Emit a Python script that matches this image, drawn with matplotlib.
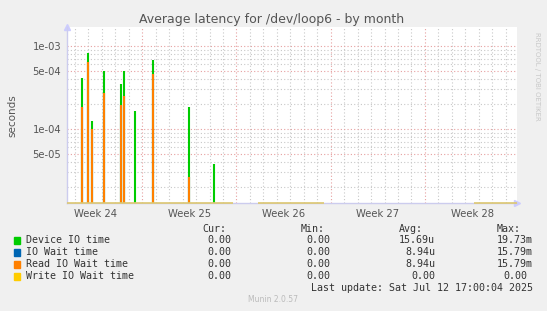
import matplotlib
matplotlib.use('Agg')
import matplotlib.pyplot as plt

# time axis: days from start of week 25 (Sun Jun 15 2025)
t_start = -5.61
t_end = 27.82
week_labels = ['Week 24', 'Week 25', 'Week 26', 'Week 27', 'Week 28']

# spikes (time in days, value in seconds)
dev_t = [-4.45, -4.00, -3.71, -2.82, -1.60, -1.33, -0.51, 0.82, 3.50, 5.36]
dev_v = [4.1e-4, 8.2e-4, 1.25e-4, 5.0e-4, 3.5e-4, 5.0e-4, 1.66e-4, 6.8e-4, 1.84e-4, 3.8e-5]
read_t = [-4.45, -4.00, -3.71, -2.82, -1.60, -1.33, 0.82, 3.50]
read_v = [1.84e-4, 6.5e-4, 1.01e-4, 2.72e-4, 1.96e-4, 2.52e-4, 4.6e-4, 2.6e-5]
iowait_t = read_t
iowait_v = read_v

# periods with known (zero) data for write IO wait
known_start = [-5.61, 8.6, 24.65]
known_end = [6.75, 13.5, 27.82]

names = ['Device IO time', 'IO Wait time', 'Read IO Wait time', 'Write IO Wait time']
colors = ['#00cc00', '#0066b3', '#ff8000', '#ffcc00']
cur = ['0.00', '0.00', '0.00', '0.00']
mins = ['0.00', '0.00', '0.00', '0.00']
avgs = ['15.69u', '8.94u', '8.94u', '0.00']
maxs = ['19.73m', '15.79m', '15.79m', '0.00']

ybot, ytop = 1.28e-5, 1.68e-3

fig = plt.figure(figsize=(5.47, 3.11), dpi=100, facecolor='#f0f0f0')
ax = fig.add_axes([66.7/547, 1-203/311, 450/547, (203-27.3)/311])
ax.set_facecolor('white')
ax.set_yscale('log')
ax.set_xlim(t_start, t_end)
ax.set_ylim(ybot, ytop)

# grid
for d in range(-5, 28):
    c = '#e6a0a0' if d % 7 == 0 else '#c8c8c8'
    ax.axvline(d, color=c, lw=0.8, ls=(0, (1, 2)), zorder=0)
for e in (-5, -4, -3):
    for m in range(1, 10):
        yv = m * 10.0**e
        if ybot < yv < ytop:
            c = '#e6a0a0' if m in (1, 5) else '#c8c8c8'
            ax.axhline(yv, color=c, lw=0.8, ls=(0, (1, 2)), zorder=0)

ax.vlines(dev_t, ybot, dev_v, color=colors[0], lw=1.5, zorder=2)
ax.vlines(iowait_t, ybot, iowait_v, color=colors[1], lw=1.5, zorder=3)
ax.vlines(read_t, ybot, read_v, color=colors[2], lw=1.5, zorder=4)
ax.hlines([ybot] * len(known_start), known_start, known_end, color='#ddc870', lw=1.2, zorder=5, clip_on=False)

for s in ['top', 'right']:
    ax.spines[s].set_visible(False)
for s in ['left', 'bottom']:
    ax.spines[s].set_color('#ccccee')
    ax.spines[s].set_linewidth(1)
ax.plot(1.0, 0, '>', color='#ccccff', ms=4, transform=ax.transAxes, clip_on=False)
ax.plot(0, 1.0, '^', color='#ccccff', ms=4, transform=ax.transAxes, clip_on=False)

ax.set_xticks([-3.5, 3.5, 10.5, 17.5, 24.5])
ax.set_xticklabels(week_labels)
ax.set_yticks([5e-5, 1e-4, 5e-4, 1e-3])
ax.set_yticklabels(['5e-05', '1e-04', '5e-04', '1e-03'])
ax.minorticks_off()
ax.tick_params(length=0, labelsize=7.2, labelcolor='#555555', pad=4)
ax.set_ylabel('seconds', fontsize=7.5, color='#555555', labelpad=11)

fig.text(272 / 547, 1 - 19 / 311, 'Average latency for /dev/loop6 - by month',
         ha='center', va='center', fontsize=9, color='#555555')
fig.text(537 / 547, 1 - 32 / 311, 'RRDTOOL / TOBI OETIKER', rotation=270,
         ha='center', va='top', fontsize=5, color='#c8c8c8')

mono = dict(family='DejaVu Sans Mono', fontsize=7.2, color='#333333', va='center')
hy = 1 - 228.5 / 311
for x, h in zip([226, 325, 423, 521], ['Cur:', 'Min:', 'Avg:', 'Max:']):
    fig.text(x / 547, hy, h, ha='right', **mono)
for i in range(4):
    y = 1 - (240 + 12 * i) / 311
    fig.patches.append(plt.Rectangle((13.5 / 547, y - 3.5 / 311), 6 / 547, 7 / 311,
                                     transform=fig.transFigure, color=colors[i]))
    fig.text(26 / 547, y, names[i], ha='left', **mono)
    fig.text(231.5 / 547, y, cur[i], ha='right', **mono)
    fig.text(330 / 547, y, mins[i], ha='right', **mono)
    fig.text(435 / 547, y, avgs[i], ha='right', **mono)
    fig.text((533 if maxs[i] != '0.00' else 527) / 547, y, maxs[i], ha='right', **mono)
fig.text(533 / 547, 1 - 288 / 311, 'Last update: Sat Jul 12 17:00:04 2025', ha='right', **mono)
fig.text(273 / 547, 1 - 300 / 311, 'Munin 2.0.57', ha='center', va='center',
         fontsize=5.5, color='#bbbbbb')

fig.savefig('out.png', dpi=100, facecolor=fig.get_facecolor())
